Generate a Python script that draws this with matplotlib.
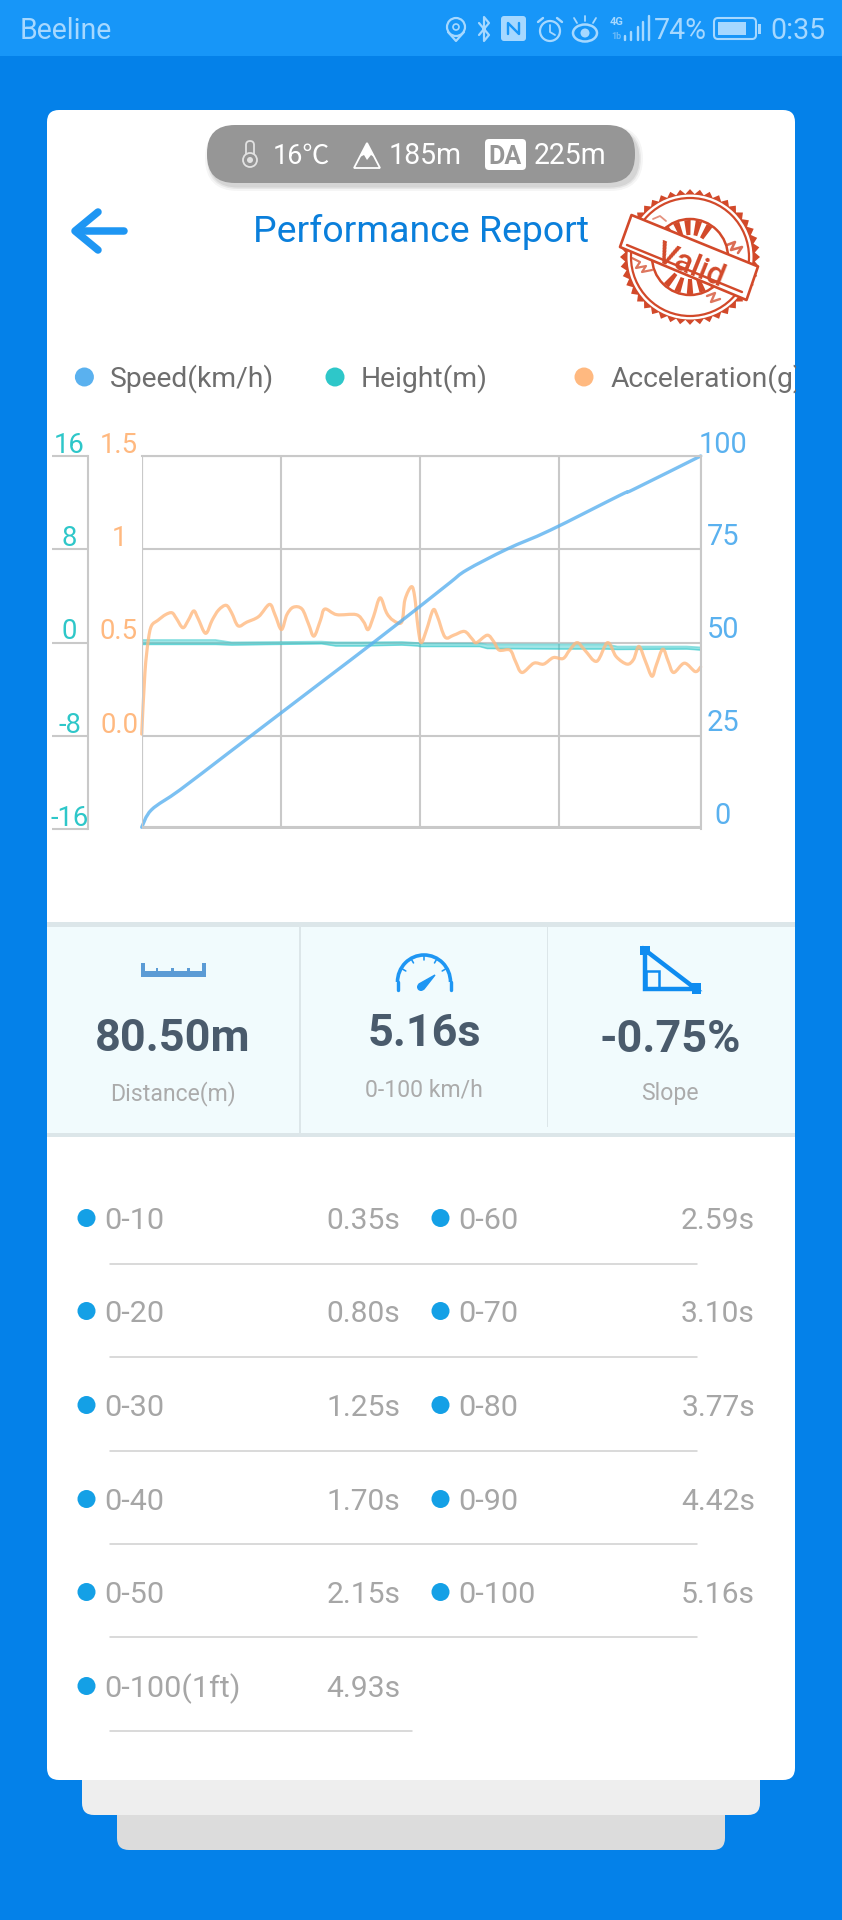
import numpy as np
import matplotlib
matplotlib.use("Agg")
import matplotlib.pyplot as plt
from matplotlib.path import Path
from matplotlib.patches import Circle, Ellipse, FancyBboxPatch, PathPatch, Polygon, Rectangle, Arc, Wedge

plt.rcParams['font.family'] = ['Roboto', 'DejaVu Sans']

# speed curve (from the split table plus a few)
speed_t = [0, 0.09, 0.35, 0.80, 1.25, 1.70, 2.15, 2.59, 2.85, 3.00, 3.37, 3.77, 4.42, 4.54, 5.16]
speed_v = [0, 4.7, 10, 20, 30, 40, 50, 60, 66, 69.3, 74.9, 80, 89.5, 91, 100]

# height is drawn as a thin band, upper and lower edge
height_t = [0, 0.68, 0.83, 1.66, 1.79, 2.03, 2.40, 2.55, 2.57, 3.12, 3.19, 3.86, 4.29, 4.39, 5.03, 5.16]
height_top = [0.23, 0.23, 0.02, 0.09, 0.02, 0.02, 0.06, -0.03, -0.07, -0.07, -0.15, -0.15, -0.15, -0.33, -0.33, -0.41]
height_bot = [-0.15, -0.15, -0.20, -0.09, -0.28, -0.28, -0.20, -0.28, -0.33, -0.33, -0.50, -0.54, -0.54, -0.58, -0.54, -0.63]

accel_t = [0, .03, .06, .09, .15, .22, .28, .32, .38, .43, .48, .52, .59, .65, .71, .78, .83, .89, .97,
           1.08, 1.18, 1.23, 1.29, 1.34, 1.40, 1.48, 1.54, 1.59, 1.65, 1.69, 1.80, 1.98, 2.05, 2.09, 2.14,
           2.20, 2.26, 2.32, 2.40, 2.43, 2.49, 2.52, 2.55, 2.58, 2.63, 2.69, 2.73, 2.80, 2.88, 2.98, 3.05,
           3.09, 3.19, 3.25, 3.30, 3.40, 3.45, 3.51, 3.62, 3.71, 3.80, 3.89, 3.95, 4.02, 4.09, 4.20, 4.30,
           4.38, 4.48, 4.54, 4.59, 4.65, 4.71, 4.75, 4.81, 4.86, 4.91, 5.01, 5.11, 5.16]
accel_g = [.01, .34, .51, .59, .62, .65, .66, .63, .58, .62, .67, .63, .55, .62, .675, .70, .66, .59, .61,
           .64, .705, .65, .57, .65, .69, .68, .60, .535, .62, .68, .65, .65, .61, .57, .64,
           .74, .66, .62, .61, .73, .80, .745, .585, .50, .57, .675, .64, .53, .54, .56, .52,
           .50, .54, .505, .46, .46, .40, .34, .39, .385, .42, .415, .46, .50, .46, .40, .50,
           .425, .385, .41, .48, .40, .32, .38, .465, .40, .34, .39, .345, .37]

height_ticks = [-16, -8, 0, 8, 16]
height_labels = ['-16', '-8', '0', '8', '16']
accel_ticks = [0, 0.5, 1, 1.5]
accel_labels = ['0.0', '0.5', '1', '1.5']
speed_ticks = [0, 25, 50, 75, 100]
speed_labels = ['0', '25', '50', '75', '100']
time_grid = [0, 1.285, 2.57, 3.855, 5.16]

legend_names = ['Speed(km/h)', 'Height(m)', 'Acceleration(g)']

stat_values = ['80.50m', '5.16s', '-0.75%']
stat_names = ['Distance(m)', '0-100 km/h', 'Slope']

left_names = ['0-10', '0-20', '0-30', '0-40', '0-50', '0-100(1ft)']
left_times = ['0.35s', '0.80s', '1.25s', '1.70s', '2.15s', '4.93s']
right_names = ['0-60', '0-70', '0-80', '0-90', '0-100']
right_times = ['2.59s', '3.10s', '3.77s', '4.42s', '5.16s']

BLUE = '#0481E9'
BAR = '#1796F8'
PALE = '#A6D8FF'
C_SPEED = '#5AB1EF'
C_HEIGHT = '#2EC7C9'
C_ACCEL = '#FFB980'
C_GRID = '#C9C9C9'
C_STAMP = '#D2492A'
C_ICON = '#1E96F3'

fig = plt.figure(figsize=(8.42, 19.2), dpi=100, facecolor=BLUE)

# page furniture is drawn in pixel coordinates
ui = fig.add_axes([0, 0, 1, 1])
ui.set_xlim(0, 842)
ui.set_ylim(1920, 0)
ui.axis('off')


def txt(x, y, s, px, color, ha='left', **kw):
    # y is the middle of the capitals
    return ui.text(x, y + 0.355 * px, s, fontsize=px * 0.72, color=color, ha=ha, va='baseline', **kw)


def rbox(x0, y0, x1, y1, r, color, **kw):
    p = FancyBboxPatch((x0, y0), x1 - x0, y1 - y0, boxstyle='round,pad=0,rounding_size=%g' % r,
                       fc=color, ec='none', **kw)
    ui.add_patch(p)
    return p


def stroke(xs, ys, color, px, **kw):
    ui.plot(xs, ys, color=color, lw=px * 0.72, solid_capstyle='round', solid_joinstyle='round', **kw)


def smooth_line(axis, xs, ys, color, lw, alpha):
    # bezier through the read points, like the smooth option of the original chart
    p = np.c_[xs, ys]
    q = np.vstack([p[0], p, p[-1]])
    verts = [p[0]]
    codes = [Path.MOVETO]
    for i in range(len(p) - 1):
        verts += [p[i] + (q[i + 2] - q[i]) / 6, p[i + 1] - (q[i + 3] - q[i + 1]) / 6, p[i + 1]]
        codes += [Path.CURVE4] * 3
    axis.add_patch(PathPatch(Path(verts, codes), fc='none', ec=color, lw=lw, alpha=alpha,
                             capstyle='round', joinstyle='round', clip_on=False))


# status bar
ui.add_patch(Rectangle((0, 0), 842, 56, fc=BAR, ec='none'))
txt(20, 29, 'Beeline', 28.5, PALE)
txt(654, 29, '74%', 28.5, PALE)
txt(770, 29, '0:35', 28.5, PALE)
ui.add_patch(Circle((456, 27), 9, fc='none', ec=PALE, lw=1.6))
ui.add_patch(Circle((456, 27), 3, fc='none', ec=PALE, lw=1.2))
stroke([448, 456, 464], [32, 41, 32], PALE, 2.2)
stroke([479, 489, 484, 484, 489, 479], [23, 35, 41, 17, 23, 35], PALE, 2.2)
rbox(501, 16, 526, 41, 3, PALE)
stroke([508, 508, 519, 519], [34, 23, 34, 23], BAR, 2.4)
ui.add_patch(Circle((550, 31), 10, fc='none', ec=PALE, lw=1.6))
stroke([550, 550, 555], [25, 32, 35], PALE, 1.8)
stroke([538, 543], [22, 18], PALE, 2.4)
stroke([557, 562], [18, 22], PALE, 2.4)
ui.add_patch(Ellipse((585, 33), 24, 17, fc='none', ec=PALE, lw=1.8))
ui.add_patch(Circle((585, 33), 4.5, fc=PALE, ec='none'))
stroke([574, 577], [18, 23], PALE, 1.8)
stroke([585, 585], [16, 21], PALE, 1.8)
stroke([596, 593], [18, 23], PALE, 1.8)
txt(610, 21, '4G', 11, PALE, fontweight='bold')
txt(611, 36, '1b', 9, '#6DBBF9', fontweight='bold')
for bx, by in zip([624.6, 631, 637.5, 643.4, 648.8], [36, 32, 27, 22, 16]):
    stroke([bx, bx], [by, 40], PALE, 2.4)
p = FancyBboxPatch((714, 18), 42, 21, boxstyle='round,pad=0,rounding_size=4', fc='none', ec=PALE, lw=1.5)
ui.add_patch(p)
ui.add_patch(Rectangle((718, 22), 28, 13, fc=PALE, ec='none'))
ui.add_patch(Rectangle((758, 24), 3, 10, fc=PALE, ec='none'))

# stacked cards
rbox(117, 1700, 725, 1850, 12, '#DCDCDC')
rbox(82, 1700, 760, 1815, 12, '#EEEEEE')
card = rbox(47, 110, 795, 1780, 12, 'white')

# pill with the conditions, soft shadow first
for grow, a in [(5, 0.05), (3, 0.08), (1.5, 0.10)]:
    rbox(207 - grow + 3, 128 - grow + 3, 635 + grow + 3, 183 + grow + 3, 28 + grow, '#404040', alpha=a)
rbox(207, 125, 635, 183, 28, '#969696')
c_pill = '#E2E2E2'
ui.add_patch(FancyBboxPatch((246, 141), 8, 20, boxstyle='round,pad=0,rounding_size=4', fc='none', ec=c_pill, lw=1.3))
ui.add_patch(Circle((250, 160), 7, fc='#969696', ec=c_pill, lw=1.3))
ui.add_patch(Circle((250, 160), 3, fc=c_pill, ec='none'))
txt(273, 154, '16℃', 27, 'white', family=['Roboto', 'Noto Sans CJK SC', 'DejaVu Sans'])
ui.add_patch(Polygon([(367, 143), (354, 168), (380, 168)], closed=True, fc='none', ec='white', lw=1.3))
ui.add_patch(Polygon([(367, 143), (360, 157), (364, 155), (367, 160), (371, 155), (374, 157)], closed=True, fc='white', ec='none'))
txt(389, 154, '185m', 28.5, 'white')
rbox(485, 139, 526, 170, 4, 'white')
txt(505.5, 155, 'DA', 25, '#969696', ha='center', fontweight='bold')
txt(534, 154, '225m', 28.5, 'white')

# back arrow and title
stroke([124, 76], [231, 231], C_ICON, 7.5)
stroke([98, 75, 98], [212, 231, 250], C_ICON, 7.5)
txt(421.5, 229, 'Performance Report', 37.4, '#0A7FDB', ha='center')

# stamp
cx, cy = 690, 257
n_teeth = 44
ang = np.arange(2 * n_teeth) * np.pi / n_teeth
rad = np.tile([70, 65], n_teeth)
ui.add_patch(Polygon(np.c_[cx + rad * np.cos(ang), cy + 0.97 * rad * np.sin(ang)], closed=True, fc=C_STAMP, ec='none'))
ui.add_patch(Circle((cx, cy), 62.5, fc='white', ec='none'))
ui.add_patch(Circle((cx, cy), 59, fc='none', ec=C_STAMP, lw=1.6))
ui.add_patch(Circle((cx, cy), 38, fc='white', ec=C_STAMP, lw=1.8))
for a in [-130, -112, -94, -76, -58, 50, 70, 90, 110, 130]:
    ui.add_patch(Wedge((cx, cy), 37, a - 5, a + 5, width=15, fc=C_STAMP, ec='none'))
# ink smudges
stroke([632, 640, 636, 646, 642, 652], [258, 262, 268, 266, 272, 270], C_STAMP, 2.2, alpha=0.75)
stroke([727, 735, 731, 742, 738], [245, 242, 250, 247, 253], C_STAMP, 2.6, alpha=0.8)
stroke([707, 715, 711, 720], [296, 293, 302, 299], C_STAMP, 2.4, alpha=0.75)
stroke([653, 660, 666], [219, 216, 221], C_STAMP, 1.8, alpha=0.6)
ui.add_patch(Polygon([(631.5, 215), (758, 266.5), (746.5, 300), (620, 247)], closed=True, fc='white', ec=C_STAMP, lw=1.9, joinstyle='round'))
stroke([627, 742], [245, 292], C_STAMP, 2.4)
ui.text(690, 266, 'Valid', fontsize=23, color=C_STAMP, ha='center', va='center', rotation=-22,
        rotation_mode='anchor', fontweight='medium')

# legend, the last label runs off the card in the original
for lx, tx, name, col in zip([84.4, 335, 584], [110, 361, 611], legend_names, [C_SPEED, C_HEIGHT, C_ACCEL]):
    ui.add_patch(Circle((lx, 377), 9.5, fc=col, ec='none'))
    t = txt(tx, 377, name, 28.2, '#6E6E6E', clip_on=True)
    t.set_clip_path(Rectangle((47, 340), 748.5, 80, transform=ui.transData))

# stats band
ui.add_patch(Rectangle((47, 922), 748, 215, fc='#F1FBFD', ec='none'))
ui.add_patch(Rectangle((47, 922), 748, 5, fc='#DCE6E9', ec='none'))
ui.add_patch(Rectangle((47, 1133), 748, 4, fc='#DCE6E9', ec='none'))
ui.add_patch(Rectangle((299, 927), 2, 206, fc='#DCE6E9', ec='none'))
ui.add_patch(Rectangle((546.5, 927), 1.5, 200, fc='#DCE6E9', ec='none'))

# ruler
c_rule = '#5B9BD5'
ui.add_patch(Rectangle((141, 971), 65, 6, fc=c_rule, ec='none'))
for rx, rtop in [(141, 963), (155.5, 968), (171, 968), (187, 968), (202, 963)]:
    ui.add_patch(Rectangle((rx, rtop), 4 if rtop == 963 else 2.5, 971 - rtop, fc=c_rule, ec='none'))

# gauge
ui.add_patch(Arc((424, 982), 53, 54, theta1=180, theta2=360, ec=C_ICON, lw=2.6))
stroke([397.5, 397.5], [982, 990], C_ICON, 3.4)
stroke([450.5, 450.5], [982, 990], C_ICON, 3.4)
for a in [-150, -120, -90, -60, -30]:
    ca, sa = np.cos(np.radians(a)), np.sin(np.radians(a))
    stroke([424 + 26 * ca, 424 + 21 * ca], [982 + 27 * sa, 982 + 22 * sa], C_ICON, 1.6)
ui.add_patch(Polygon([(419, 984), (424, 989), (435, 975)], closed=True, fc=C_ICON, ec=C_ICON, lw=1))
ui.add_patch(Circle((421, 987), 4, fc=C_ICON, ec='none'))

# slope icon
c_slope = '#0F8CF0'
ui.add_patch(Polygon([(645, 950), (645, 989), (696, 989)], closed=True, fc='none', ec=c_slope, lw=3.2))
ui.add_patch(Rectangle((640, 946), 10, 9, fc=c_slope, ec='none'))
ui.add_patch(Rectangle((692, 983), 9, 11, fc=c_slope, ec='none'))
ui.add_patch(Rectangle((646, 971), 13, 17, fc='none', ec=c_slope, lw=1.8))

for x, y, val in zip([173, 424, 670], [1035, 1030, 1036], stat_values):
    txt(x, y, val, 45, '#4A5B6C', ha='center', fontweight='bold')
for x, y, name in zip([173, 424, 670], [1092, 1088, 1092], stat_names):
    txt(x, y, name, 23, '#ABABAB', ha='center')

# split table
row_y = [1218, 1311, 1405, 1499, 1592, 1686]
rule_y = [1264, 1357, 1451, 1544, 1637]
c_dot = '#14A0E6'
c_row = '#A6A6A6'
for y, name, val in zip(row_y, left_names, left_times):
    ui.add_patch(Circle((86.5, y), 9, fc=c_dot, ec='none'))
    txt(104, y, name, 30.5, c_row)
    txt(400.5, y, val, 30, c_row, ha='right')
for y, name, val in zip(row_y, right_names, right_times):
    ui.add_patch(Circle((440.5, y), 9, fc=c_dot, ec='none'))
    txt(458, y, name, 30.5, c_row)
    txt(755, y, val, 30, c_row, ha='right')
for y in rule_y:
    stroke([110, 697], [y, y], '#D2D2D2', 1.6)
stroke([110, 412], [1731, 1731], '#D2D2D2', 1.6)

# chart with its three scales; height and acceleration fill the full box,
# speed 0 sits a little above the bottom like in the original
ax_h = fig.add_axes([141.7 / 842, 1 - 829.3 / 1920, 559 / 842, 373.3 / 1920])
ax_h.set_xlim(0, 5.16)
ax_h.set_ylim(-16, 16)
ax_h.set_xticks(time_grid)
ax_h.set_yticks(height_ticks)
ax_h.set_axisbelow(True)
ax_h.grid(True, color=C_GRID, lw=1.5)
ax_h.tick_params(axis='x', length=0, labelbottom=False)
ax_h.tick_params(axis='y', length=26, width=1.5, color=C_GRID, labelleft=False)
for name, s in ax_h.spines.items():
    s.set_visible(name == 'left')
ax_h.spines['left'].set_position(('outward', 38.7))
ax_h.spines['left'].set_color(C_GRID)
ax_h.spines['left'].set_linewidth(1.5)
ax_h.set_zorder(1)

ax_a = ax_h.twinx()
ax_a.set_ylim(-0.5, 1.5)
ax_a.set_yticks([])
for s in ax_a.spines.values():
    s.set_visible(False)
ax_a.set_zorder(2)

ax = ax_h.twinx()
ax.set_ylim(-0.54, 100)
ax.set_yticks([])
ax.spines['left'].set_visible(False)
ax.spines['bottom'].set_visible(False)
for name in ['top', 'right']:
    ax.spines[name].set_color(C_GRID)
    ax.spines[name].set_linewidth(1.5)
ax.axhline(0, color=C_GRID, lw=1.5)
ax.axvline(0, color=C_GRID, lw=1.5)
ax.set_zorder(3)

ax_h.fill_between(height_t, height_bot, height_top, color=C_HEIGHT, alpha=0.45, lw=0)
ax_h.plot(height_t, height_top, color=C_HEIGHT, lw=1.2, alpha=0.55)
ax_h.plot(height_t, height_bot, color=C_HEIGHT, lw=1.2, alpha=0.55)
smooth_line(ax_a, accel_t, accel_g, C_ACCEL, 2.3, 0.8)
smooth_line(ax, speed_t, speed_v, C_SPEED, 2.4, 0.8)


def tick_text(axis, ticks, labels, dx, color, px=27.5):
    # labels sit above their tick, placed through that axis' own scale
    for v, s in zip(ticks, labels):
        axis.annotate(s, xy=(0, v), xycoords=(axis.transAxes, axis.transData),
                      xytext=(dx * 0.72, 3.4 * 0.72), textcoords='offset points',
                      fontsize=px * 0.72, color=color, ha='center', va='baseline', annotation_clip=False)


tick_text(ax_h, height_ticks, height_labels, 69.5 - 141.7, C_HEIGHT)
tick_text(ax_a, accel_ticks, accel_labels, 119 - 141.7, C_ACCEL)
tick_text(ax, speed_ticks, speed_labels, 723 - 141.7, C_SPEED, px=29)

fig.savefig('out.png', dpi=100, facecolor=BLUE)
